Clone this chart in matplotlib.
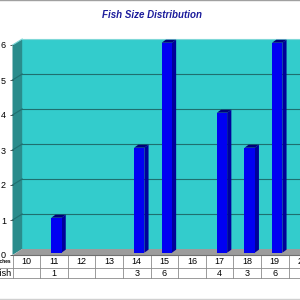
import matplotlib.pyplot as plt
from matplotlib.patches import Polygon
from matplotlib.lines import Line2D

plt.rcParams['font.family'] = ['Liberation Sans', 'DejaVu Sans']

# data
sizes = [10, 11, 12, 13, 14, 15, 16, 17, 18, 19, 20]
counts = [0, 1, 0, 0, 3, 6, 0, 4, 3, 6, 0]
yticks = [0, 1, 2, 3, 4, 5, 6]
row_labels = ["Inches", "Fish"]
title = "Fish Size Distribution"

# colours
wall = '#33cccc'
side_wall = '#2a8c8c'
grid_c = '#1f6f6f'
floor_c = '#9c9c9c'
bar_front = '#0000f2'
bar_side = '#00009a'
bar_top = '#000078'

fig = plt.figure(figsize=(3, 3), dpi=100)
ax = fig.add_axes([12.5 / 300, 45 / 300, 287.5 / 300, 219 / 300])
x0, x1 = -0.5, 287.5 / 27.6 - 0.5
ymax = 6
ax.set_xlim(x0, x1)
ax.set_ylim(0, 219 / 35)

# 3d depth of walls (data units)
dxw, dyw = 9.7 / 27.6, 6 / 35

# back wall, left wall, floor
ax.add_patch(Polygon([(x0 + dxw, dyw), (x1 + 1, dyw), (x1 + 1, ymax + dyw),
                      (x0 + dxw, ymax + dyw)], closed=True, fc=wall, ec='none',
                     clip_on=False, zorder=1))
ax.add_patch(Polygon([(x0, 0), (x0 + dxw, dyw), (x0 + dxw, ymax + dyw), (x0, ymax)],
                     closed=True, fc=side_wall, ec='none', clip_on=False, zorder=1))
ax.add_patch(Polygon([(x0, 0), (x1 + 1, 0), (x1 + 1, dyw), (x0 + dxw, dyw)],
                     closed=True, fc=floor_c, ec='none', clip_on=False, zorder=2))
ax.plot([x0, x1 + 1], [0, 0], color='#707070', lw=0.8, clip_on=False, zorder=3)

# grid lines on back and left wall
for v in yticks[1:]:
    c = grid_c if v < ymax else '#7fd8d8'
    ax.plot([x0 + dxw, x1 + 1], [v + dyw, v + dyw], color=c, lw=0.8, clip_on=False, zorder=2)
    ax.plot([x0, x0 + dxw], [v, v + dyw], color=c, lw=0.8, clip_on=False, zorder=2)

# bars
ox, oy = 2.5 / 27.6, 2.3 / 35
bw = 10.3 / 27.6
bdx, bdy = 4.2 / 27.6, 3 / 35
xs = [i + ox for i in range(len(sizes))]
ax.bar(xs, counts, width=bw, bottom=oy, color=bar_front, zorder=5)
for x, v in zip(xs, counts):
    if v == 0:
        continue
    xl, xr = x - bw / 2, x + bw / 2
    ax.add_patch(Polygon([(xr, oy), (xr + bdx, oy + bdy), (xr + bdx, v + oy + bdy),
                          (xr, v + oy)], closed=True, fc=bar_side, ec='none', zorder=4))
    ax.add_patch(Polygon([(xl, v + oy), (xr, v + oy), (xr + bdx, v + oy + bdy),
                          (xl + bdx, v + oy + bdy)], closed=True, fc=bar_top, ec='none', zorder=4))

# y axis
for s in ax.spines.values():
    s.set_visible(False)
ax.set_xticks([])
ax.set_yticks(yticks)
ax.tick_params(axis='y', length=2.3, width=0.6, pad=2.5, labelsize=6.5, color='#404040')

# data table
r1, r2 = -13 / 35, -23 / 35
xl_fig = x0 - 12.5 / 27.6
tc = '#8a8a8a'
for y in [r1, r2]:
    ax.plot([xl_fig, x1 + 1], [y, y], color=tc, lw=0.6, clip_on=False)
for k in range(len(sizes) + 1):
    ax.plot([x0 + k, x0 + k], [0, r2], color=tc, lw=0.6, clip_on=False)
for i, (s, c) in enumerate(zip(sizes, counts)):
    ax.text(i, r1 / 2, str(s), ha='center', va='center', fontsize=6.5, clip_on=False)
    if c:
        ax.text(i, (r1 + r2) / 2, str(c), ha='center', va='center', fontsize=6.5,
                clip_on=False)
ax.text(x0 - 0.05, r1 / 2, row_labels[0], ha='right', va='center', fontsize=3.5,
        fontweight='bold', clip_on=False)
ax.text(x0 - 0.05, (r1 + r2) / 2, row_labels[1], ha='right', va='center', fontsize=6.5,
        clip_on=False)

fig.text(0.507, 1 - 15 / 300, title, ha='center', va='center', fontsize=7,
         fontweight='bold', fontstyle='italic', color='#1c1c9c')

# figure frame lines
fig.add_artist(Line2D([0, 1], [0.999, 0.999], color='#a0a0a0', lw=1))
fig.add_artist(Line2D([0, 1], [0.004, 0.004], color='#d0d0d0', lw=1))

fig.savefig('out.png', dpi=100)
